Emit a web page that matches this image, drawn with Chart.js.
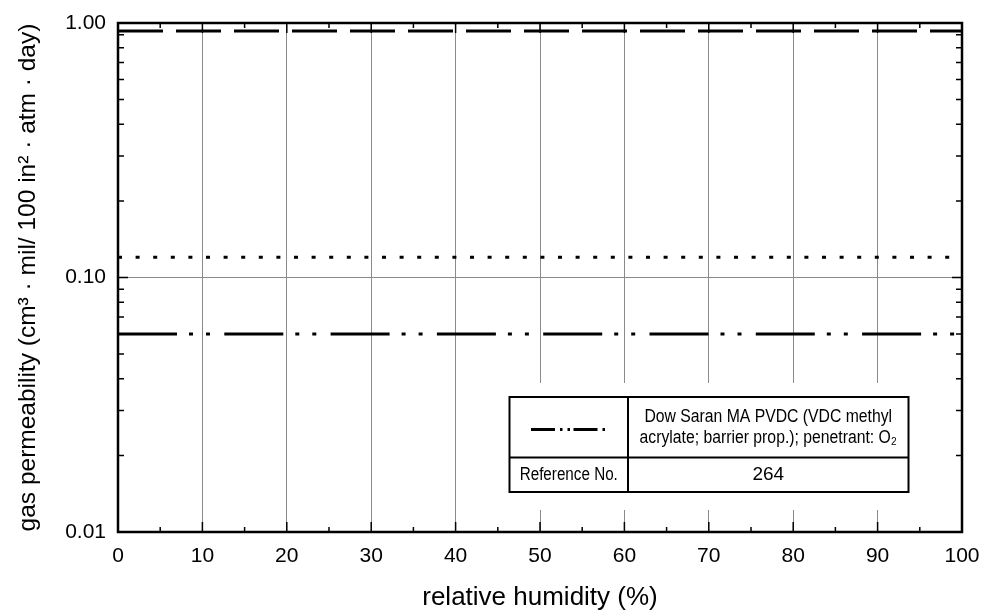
<!DOCTYPE html>
<html>
<head>
<meta charset="utf-8">
<script src="https://cdn.jsdelivr.net/npm/chart.js@4"></script>
<style>
  html, body { margin: 0; padding: 0; background: #fff; }
  #wrap { width: 983px; height: 613px; }
</style>
</head>
<body>
<div id="wrap"><canvas id="permChart" width="983" height="613"></canvas></div>
<script>
// x range (relative humidity, %) and the flat permeability levels
const humidity = [0, 100];
const dashedLevel = [0.93, 0.93];
const dottedLevel = [0.12, 0.12];
const dashDotLevel = [0.06, 0.06];

const xTicks = [0, 10, 20, 30, 40, 50, 60, 70, 80, 90, 100];
const yTicks = [0.01, 0.1, 1];
const yTickLabels = ["0.01", "0.10", "1.00"];

const legendLines = ["Dow Saran MA PVDC (VDC methyl", "acrylate; barrier prop.); penetrant: O\u2082"];
const refLabel = "Reference No.";
const refNumber = "264";

const FONT = "'Liberation Sans', Arial, Helvetica, sans-serif";
const GRID = "#8a8a8a";

function pts(ys) {
  return humidity.map((x, i) => ({ x: x, y: ys[i] }));
}

// frame, inward tick marks and the legend table
const framePlugin = {
  id: "frame",
  afterDraw(chart) {
    const ctx = chart.ctx;
    const a = chart.chartArea;
    const xs = chart.scales.x;
    const ys = chart.scales.y;

    ctx.save();
    ctx.strokeStyle = "#000";
    ctx.lineWidth = 1.5;
    ctx.beginPath();
    for (let v = 5; v < 100; v += 5) {
      const px = xs.getPixelForValue(v);
      const len = v % 10 === 0 ? 10 : 5;
      ctx.moveTo(px, a.bottom); ctx.lineTo(px, a.bottom - len);
      ctx.moveTo(px, a.top); ctx.lineTo(px, a.top + len);
    }
    [0.01, 0.1].forEach(dec => {
      for (let m = 1; m <= 9; m++) {
        const v = dec * m;
        if (v <= 0.01) continue;
        const py = ys.getPixelForValue(v);
        const len = m === 1 ? 10 : 6;
        ctx.moveTo(a.left, py); ctx.lineTo(a.left + len, py);
        ctx.moveTo(a.right, py); ctx.lineTo(a.right - len, py);
      }
    });
    ctx.stroke();

    ctx.lineWidth = 2.5;
    ctx.strokeRect(a.left, a.top, a.right - a.left, a.bottom - a.top);

    // legend table
    const bx = 509.5, by = 397, bw = 399, bh = 95;
    const colX = 628, rowY = 457.5;
    ctx.fillStyle = "#fff";
    ctx.fillRect(bx - 14, 383, bw + 28, 127);
    ctx.lineWidth = 2;
    ctx.strokeRect(bx, by, bw, bh);
    ctx.beginPath();
    ctx.moveTo(colX, by); ctx.lineTo(colX, by + bh);
    ctx.moveTo(bx, rowY); ctx.lineTo(bx + bw, rowY);
    ctx.stroke();

    ctx.lineWidth = 3;
    ctx.setLineDash([24, 5, 2.5, 5, 2.5, 3.5]);
    ctx.beginPath();
    ctx.moveTo(531, 429.5); ctx.lineTo(610, 429.5);
    ctx.stroke();
    ctx.setLineDash([]);

    ctx.fillStyle = "#000";
    ctx.textAlign = "center";
    ctx.textBaseline = "middle";
    const cx = (colX + bx + bw) / 2;
    const narrow = (txt, x, y, size, sx) => {
      ctx.save();
      ctx.translate(x, y);
      ctx.scale(sx, 1);
      ctx.font = size + "px " + FONT;
      ctx.fillText(txt, 0, 0);
      ctx.restore();
    };
    narrow(legendLines[0], cx, 417, 17.5, 0.9);
    narrow(legendLines[1], cx, 438.5, 17.5, 0.9);
    narrow(refLabel, (bx + colX) / 2, 475, 17.5, 0.87);
    ctx.font = "19px " + FONT;
    ctx.fillText(refNumber, cx, 475);
    ctx.restore();
  }
};

const ctx = document.getElementById("permChart").getContext("2d");
new Chart(ctx, {
  type: "line",
  data: {
    datasets: [
      {
        data: pts(dashedLevel),
        borderColor: "#000",
        borderWidth: 3,
        borderDash: [45, 13],
        pointRadius: 0,
        fill: false
      },
      {
        data: pts(dottedLevel),
        borderColor: "#000",
        borderWidth: 3,
        borderDash: [4, 13.6],
        pointRadius: 0,
        fill: false
      },
      {
        data: pts(dashDotLevel),
        borderColor: "#000",
        borderWidth: 3,
        borderDash: [59, 12, 4, 13, 4, 14.3],
        pointRadius: 0,
        fill: false
      }
    ]
  },
  options: {
    responsive: false,
    animation: false,
    devicePixelRatio: 1,
    layout: { padding: { top: 23, right: 21, left: 0, bottom: 0 } },
    plugins: {
      legend: { display: false },
      tooltip: { enabled: false }
    },
    scales: {
      x: {
        type: "linear",
        min: 0,
        max: 100,
        afterBuildTicks: s => { s.ticks = xTicks.map(v => ({ value: v })); },
        afterFit: s => { s.height = 81; s.paddingLeft = 0; s.paddingRight = 0; },
        ticks: {
          color: "#000",
          font: { family: FONT, size: 21 },
          padding: 12,
          maxRotation: 0
        },
        grid: {
          color: c => (c.tick && (c.tick.value === 0 || c.tick.value === 100)) ? "rgba(0,0,0,0)" : GRID,
          lineWidth: 1,
          drawTicks: false
        },
        border: { display: false },
        title: {
          display: true,
          text: "relative humidity (%)",
          color: "#000",
          font: { family: FONT, size: 26 },
          padding: { top: 0, bottom: 0 }
        }
      },
      y: {
        type: "logarithmic",
        min: 0.01,
        max: 1,
        afterBuildTicks: s => { s.ticks = yTicks.map(v => ({ value: v })); },
        afterFit: s => { s.width = 118; s.paddingTop = 0; s.paddingBottom = 0; },
        ticks: {
          color: "#000",
          font: { family: FONT, size: 21 },
          padding: 12,
          callback: (v) => yTickLabels[yTicks.indexOf(v)]
        },
        grid: {
          color: c => (c.tick && c.tick.value === 0.1) ? GRID : "rgba(0,0,0,0)",
          lineWidth: 1,
          drawTicks: false
        },
        border: { display: false },
        title: {
          display: true,
          text: "gas permeability (cm\u00b3 \u00b7 mil/ 100 in\u00b2 \u00b7 atm \u00b7 day)",
          color: "#000",
          font: { family: FONT, size: 24.5 },
          padding: { top: 14, bottom: 0 }
        }
      }
    }
  },
  plugins: [framePlugin]
});
</script>
</body>
</html>
